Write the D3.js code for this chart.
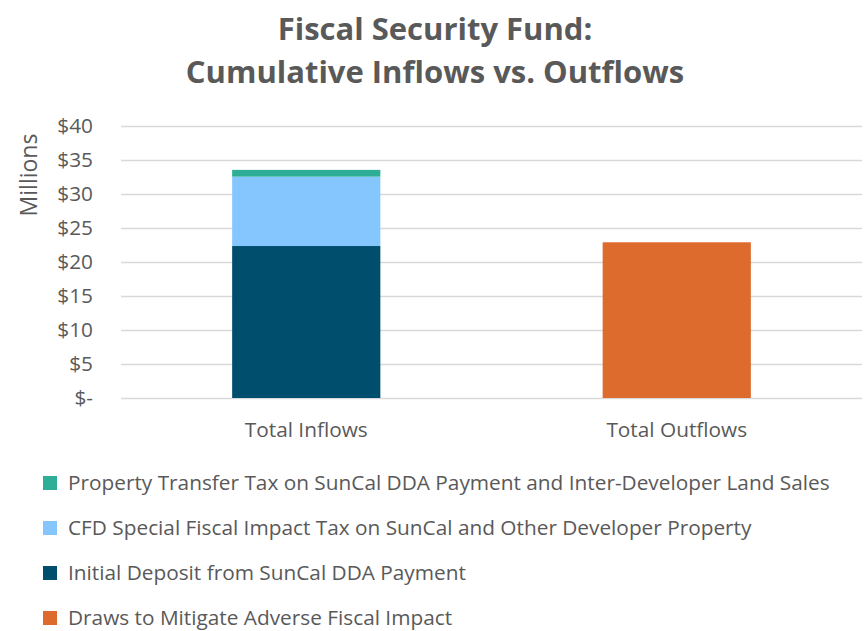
<!DOCTYPE html>
<html>
<head>
<meta charset="utf-8">
<script src="https://cdn.jsdelivr.net/npm/d3@7"></script>
<style>
  body { margin: 0; background: #fff; }
  text { font-family: "Open Sans", sans-serif; fill: #595959; }
</style>
</head>
<body>
<svg class="s"></svg>
<script>
// values in $ millions
var categories = ['Total Inflows', 'Total Outflows'];
var seriesNames = [
  'Initial Deposit from SunCal DDA Payment',
  'CFD Special Fiscal Impact Tax on SunCal and Other Developer Property',
  'Property Transfer Tax on SunCal DDA Payment and Inter-Developer Land Sales',
  'Draws to Mitigate Adverse Fiscal Impact'
];
var initialDeposit = [22.35, 0];
var cfdTax = [10.2, 0];
var transferTax = [1.0, 0];
var draws = [0, 22.9];
var yTicks = [0, 5, 10, 15, 20, 25, 30, 35, 40];
var legendOrder = [2, 1, 0, 3];
var colors = ['#004E6E', '#85C6FF', '#2EAE96', '#DD6B2E'];

var w = 867;
var h = 631;
var margin = {top: 126, right: 5, bottom: 233, left: 121};
var fs = '20.8px';

var svg = d3.select('.s')
            .attr('width', w)
            .attr('height', h);

var table = categories.map(function(c, i){
  return {cat: c, s0: initialDeposit[i], s1: cfdTax[i], s2: transferTax[i], s3: draws[i]};
});
var stack = d3.stack().keys(['s0', 's1', 's2', 's3']);
var layers = stack(table);

var x = d3.scaleBand()
          .domain(categories)
          .range([margin.left, w - margin.right])
          .padding(0);

var y = d3.scaleLinear()
          .domain([0, 40])
          .range([h - margin.bottom, margin.top]);

// gridlines + tick labels
var yAxis = d3.axisLeft(y)
              .tickValues(yTicks)
              .tickSize(-(w - margin.right - margin.left))
              .tickPadding(28)
              .tickFormat(function(d){ return d === 0 ? '$-' : '$' + d; });

var ga = svg.append('g')
            .attr('transform', 'translate(' + margin.left + ',0)')
            .call(yAxis);
ga.select('.domain').remove();
ga.selectAll('line').attr('stroke', '#D9D9D9').attr('stroke-width', 1.5);
ga.selectAll('text')
  .style('font-family', '"Open Sans", sans-serif')
  .style('font-size', fs)
  .attr('fill', '#595959');

var barW = x.bandwidth() * 0.4;

svg.append('g')
   .selectAll('g')
   .data(layers)
   .enter()
   .append('g')
   .attr('fill', function(d, i){ return colors[i]; })
   .selectAll('rect')
   .data(function(d){ return d; })
   .enter()
   .append('rect')
   .filter(function(d){ return d[1] - d[0] > 0; })
   .attr('x', function(d){ return x(d.data.cat) + (x.bandwidth() - barW) / 2; })
   .attr('width', barW)
   .attr('y', function(d){ return y(d[1]); })
   .attr('height', function(d){ return y(d[0]) - y(d[1]); });

// category labels
svg.append('g')
   .selectAll('text')
   .data(categories)
   .enter()
   .append('text')
   .attr('x', function(d){ return x(d) + x.bandwidth() / 2; })
   .attr('y', 437)
   .attr('text-anchor', 'middle')
   .style('font-size', fs)
   .text(function(d){ return d; });

// y title
svg.append('text')
   .attr('transform', 'translate(37,175) rotate(-90)')
   .attr('text-anchor', 'middle')
   .style('font-size', '23px')
   .text('Millions');

// title
svg.append('text')
   .attr('x', 435).attr('y', 40)
   .attr('text-anchor', 'middle')
   .style('font-size', '31px')
   .style('font-weight', 'bold')
   .text('Fiscal Security Fund:');
svg.append('text')
   .attr('x', 435).attr('y', 83)
   .attr('text-anchor', 'middle')
   .style('font-size', '31px')
   .style('font-weight', 'bold')
   .text('Cumulative Inflows vs. Outflows');

// legend
var legend = svg.append('g')
                .selectAll('g')
                .data(legendOrder)
                .enter()
                .append('g')
                .attr('transform', function(d, i){ return 'translate(43,' + (476 + i * 45) + ')'; });
legend.append('rect')
      .attr('width', 14).attr('height', 14)
      .attr('fill', function(d){ return colors[d]; });
legend.append('text')
      .attr('x', 25).attr('y', 13.5)
      .style('font-size', fs)
      .text(function(d){ return seriesNames[d]; });
</script>
</body>
</html>
